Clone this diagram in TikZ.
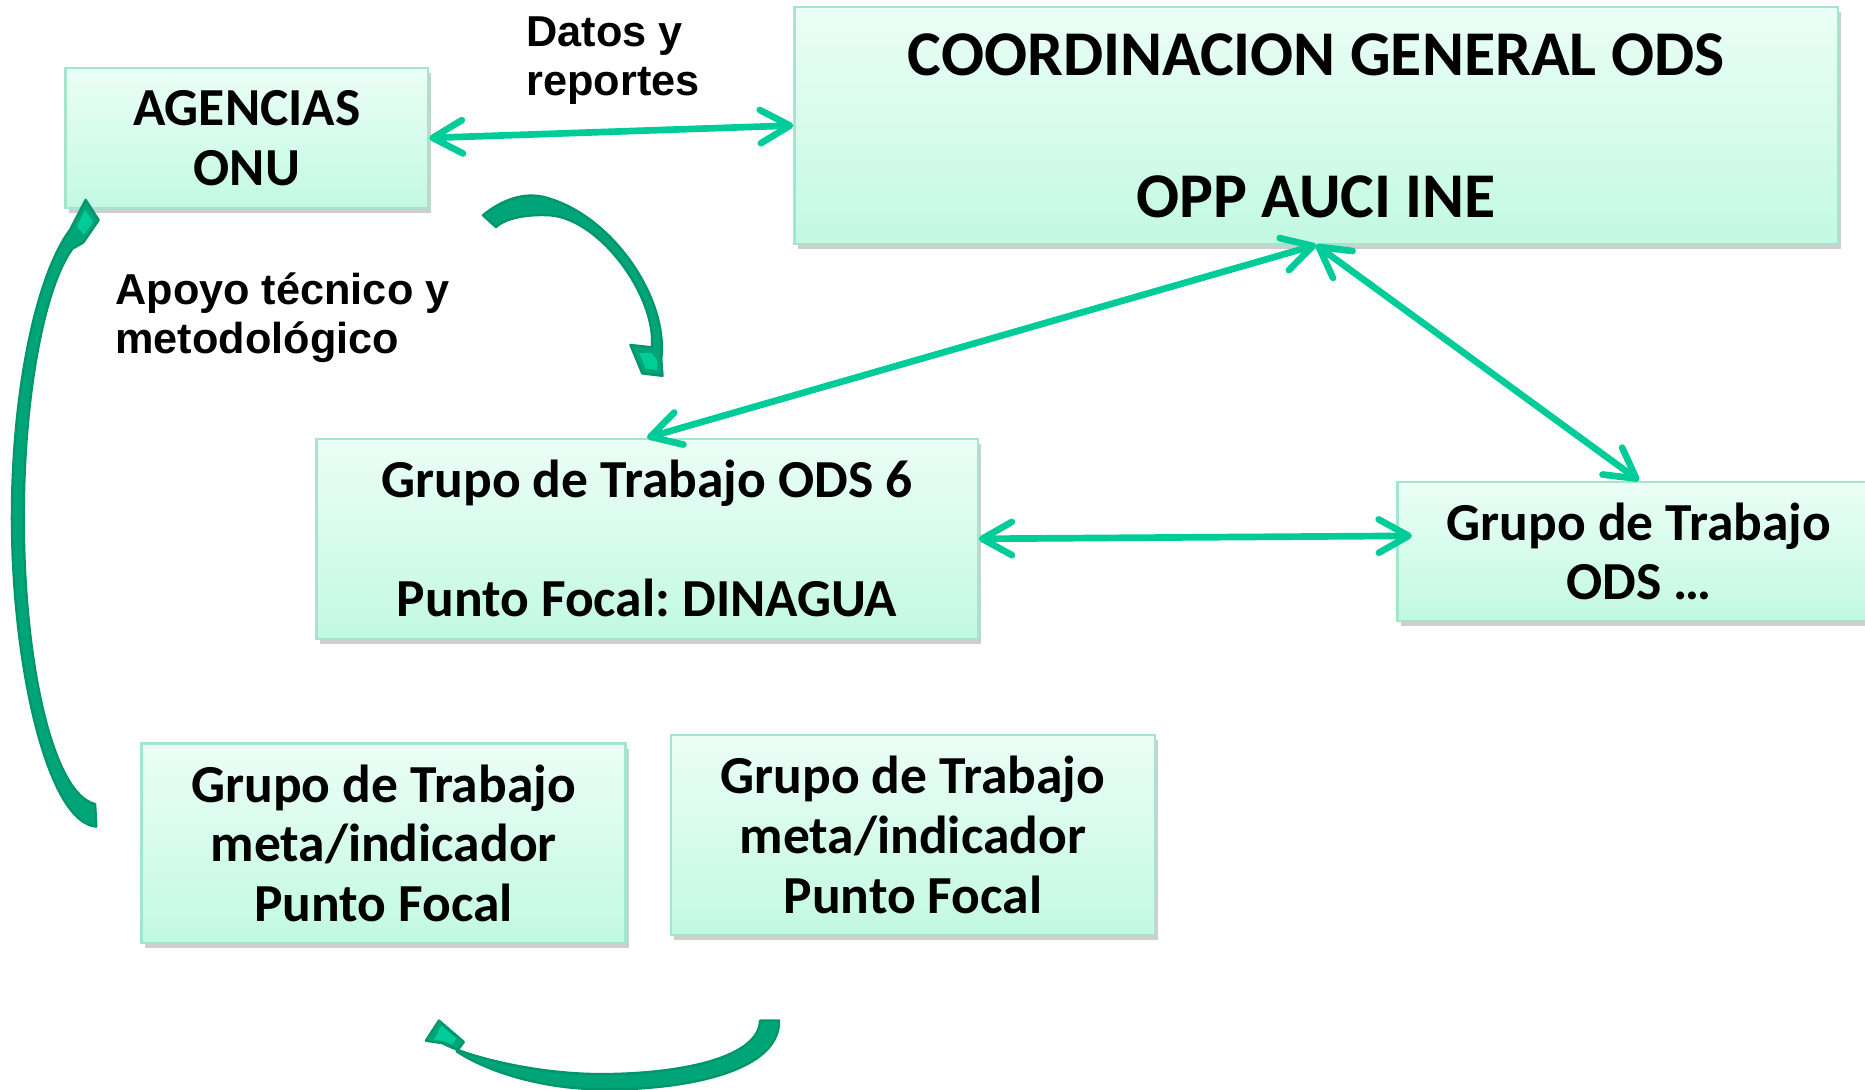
\documentclass[tikz,border=0pt]{standalone}
\usepackage{fontspec}
\setmainfont{Carlito}
\newfontfamily\labfont{Liberation Sans}
\usetikzlibrary{arrows.meta,shadows,calc}
\definecolor{boxtop}{HTML}{EBFEF6}
\definecolor{boxbot}{HTML}{C2F9E2}
\definecolor{boxedge}{HTML}{A3E6CB}
\definecolor{arrowgreen}{HTML}{00CC99}
\definecolor{curvefill}{HTML}{00A479}
\definecolor{curveedge}{HTML}{00966C}
\definecolor{curvelight}{HTML}{00CC99}
\newcommand\pxu{0.02cm}
\frenchspacing
\begin{document}
\begin{tikzpicture}[x=0.02cm,y=-0.02cm,
  gbox/.style={rectangle, draw=boxedge, line width=1.1pt, top color=boxtop, bottom color=boxbot,
    inner sep=0pt, align=center, font=\bfseries\fontsize{25.6}{28.5}\selectfont,
    drop shadow={shadow xshift=1.5pt, shadow yshift=-2.5pt, opacity=0.35, fill=black!55}},
  lab/.style={inner sep=0pt, align=left, font=\labfont\bfseries\fontsize{20.7}{23.4}\selectfont},
  link/.style={draw=arrowgreen, line width=3.2pt, line cap=round,
    {Straight Barb[length=0.5cm, width=0.56cm, round]}-{Straight Barb[length=0.5cm, width=0.56cm, round]}},
  curved/.style={fill=curvefill, draw=curveedge, line width=1.1pt, line join=round},
  hilite/.style={fill=curvelight}]
\useasboundingbox (0,0) rectangle (1568,915.6);

% boxes
\node[gbox, minimum width=305*\pxu, minimum height=118*\pxu] (agencias) at (207.5,116) {AGENCIAS\\ONU};
\node[gbox, minimum width=877*\pxu, minimum height=199*\pxu, font=\bfseries\fontsize{30.5}{34}\selectfont] (coord) at (1106.5,105.5) {COORDINACION GENERAL ODS\\[34pt]OPP AUCI INE};
\node[gbox, minimum width=556*\pxu, minimum height=168*\pxu] (gt6) at (544,453) {Grupo de Trabajo ODS 6\\[28.5pt]Punto Focal: DINAGUA};
\node[gbox, minimum width=406*\pxu, minimum height=117*\pxu] (gtx) at (1378,463.5) {Grupo de Trabajo\\ODS …};
\node[gbox, minimum width=407*\pxu, minimum height=168*\pxu] (meta1) at (322.5,709) {Grupo de Trabajo\\meta/indicador\\Punto Focal};
\node[gbox, minimum width=407*\pxu, minimum height=168*\pxu] (meta2) at (767.5,702) {Grupo de Trabajo\\meta/indicador\\Punto Focal};

% labels
\node[lab] (datos) at (515.5,51) {Datos y\\reportes};
\node[lab] (apoyo) at (237.5,267) {Apoyo técnico y\\metodológico};

% straight connectors
\draw[link] (agencias.east) -- (coord.west);
\draw[link] (coord.south) -- (gt6.north);
\draw[link] (coord.south) -- (gtx.north);
\coordinate (gtxin) at ([shift={(13,-13)}]gtx.west);
\draw[link] (gt6.east) -- (gtxin);

% curved arrow: bottom of left side up to AGENCIAS
\path[curved] (80,676) -- (81,695) .. controls (40,692) and (10,560) .. (10,435)
  .. controls (10,330) and (30,232) .. (59,193) -- (72,168) -- (83,185) -- (70,204) -- (61,209)
  .. controls (38,240) and (20,330) .. (20,435) .. controls (20,560) and (45,668) .. (80,676) -- cycle;
\path[hilite] (64.5,190.5) -- (71.6,176.5) -- (78.2,186.3) -- (70.6,197.1) -- cycle;

% curved arrow: from AGENCIAS down to GT6
\path[curved] (406,181) .. controls (428,163) and (448,162) .. (462,167)
  .. controls (515,183) and (562,250) .. (556,302) -- (557,316) -- (540,314) -- (530,290) -- (548,292)
  .. controls (552,250) and (505,184) .. (462,181) .. controls (445,180) and (425,183) .. (417,191) -- cycle;
\path[hilite] (552.3,302.6) -- (552.9,311.0) -- (542.7,309.8) -- (537.5,297.0) -- (547.5,296.6) -- cycle;

% curved arrow: bottom, between the two meta boxes
\path[curved] (639,858) -- (655,858) .. controls (656,900) and (580,916) .. (510,916)
  .. controls (450,916) and (405,898) .. (384,884) -- (390,876) -- (369,858) -- (358,875) -- (372,877)
  .. controls (392,888) and (450,903) .. (505,903) .. controls (570,903) and (638,890) .. (639,858) -- cycle;
\path[hilite] (380.2,878.0) -- (383.8,873.2) -- (371.2,862.4) -- (364.6,874.4) -- (373.0,875.2) -- cycle;
\end{tikzpicture}
\end{document}
